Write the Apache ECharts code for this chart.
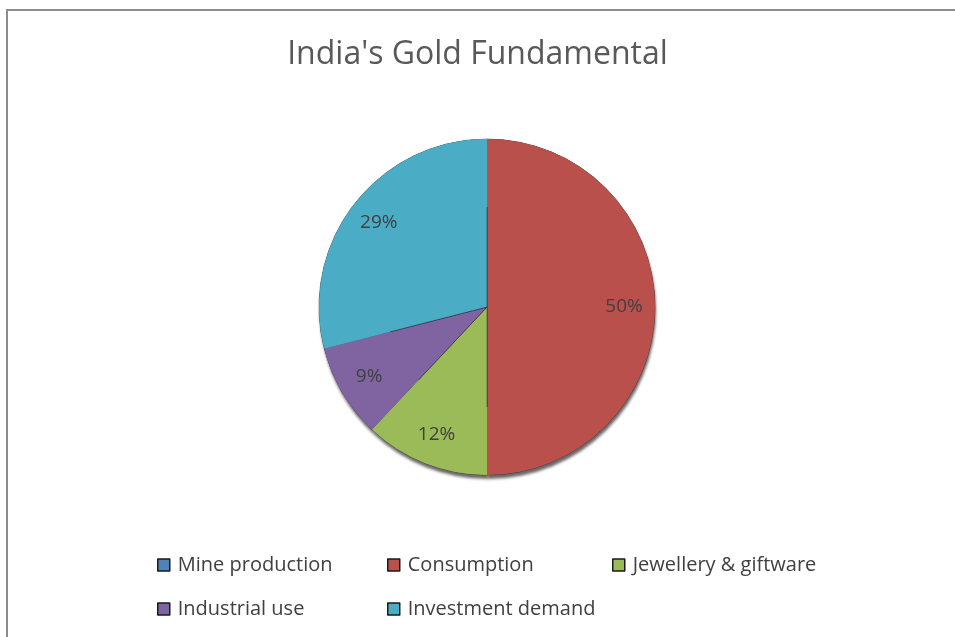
<!DOCTYPE html>
<html>
<head>
<meta charset="utf-8">
<script src="https://cdn.jsdelivr.net/npm/echarts@6/dist/echarts.min.js"></script>
<style>
  html, body { margin: 0; padding: 0; background: #fff; }
  #chart { width: 955px; height: 637px; }
</style>
</head>
<body>
<div id="chart"></div>
<script>
// India's gold fundamentals, share of each component (%)
const categories = ['Mine production', 'Consumption', 'Jewellery & giftware', 'Industrial use', 'Investment demand'];
const shares = [0, 50, 12, 9, 29];
const sliceColors = ['#4f81bd', '#ba504c', '#9bbb59', '#8064a2', '#4bacc6'];

const FONT = '"Open Sans", "Noto Sans", sans-serif';
const CENTER = [487, 307];
const R = 168;

const pieData = categories.map((name, i) => ({
  name: name,
  value: shares[i],
  itemStyle: { color: sliceColors[i] }
}));

const legendBase = {
  orient: 'vertical',
  itemWidth: 12,
  itemHeight: 12,
  itemGap: 24,
  icon: 'rect',
  itemStyle: { borderColor: '#1a1a1a', borderWidth: 1.5 },
  textStyle: { fontFamily: FONT, fontSize: 20, color: '#404040', padding: [0, 0, 0, 3] },
  selectedMode: false
};

const pieCommon = {
  type: 'pie',
  center: CENTER,
  startAngle: 90,
  clockwise: true,
  minAngle: 0,
  labelLine: { show: false },
  emphasis: { disabled: true },
  silent: true
};

const chart = echarts.init(document.getElementById('chart'), null, { renderer: 'canvas' });
chart.setOption({
  backgroundColor: '#ffffff',
  animation: false,
  title: {
    text: "India's Gold Fundamental",
    left: 'center',
    top: 34,
    textStyle: { fontFamily: FONT, fontSize: 32, fontWeight: 'normal', color: '#595959' }
  },
  graphic: [{
    type: 'rect',
    shape: { x: 7, y: 10, width: 1000, height: 700 },
    style: { fill: 'none', stroke: '#8c8c8c', lineWidth: 2 },
    silent: true
  }],
  legend: [
    Object.assign({}, legendBase, { left: 152, top: 550, data: [categories[0], categories[3]] }),
    Object.assign({}, legendBase, { left: 382, top: 550, data: [categories[1], categories[4]] }),
    Object.assign({}, legendBase, { left: 607, top: 550, data: [categories[2]] })
  ],
  series: [
    // coloured slices
    Object.assign({}, pieCommon, {
      z: 2,
      radius: [0, R],
      data: pieData,
      label: { show: false },
      itemStyle: {
        borderColor: 'rgba(30,30,40,0.55)',
        borderWidth: 0.8
      }
    }),
    // dark underlay casting the drop shadow of the disc
    Object.assign({}, pieCommon, {
      z: 1,
      radius: [0, R],
      data: pieData.map(d => ({ name: d.name, value: d.value })),
      label: { show: false },
      itemStyle: {
        color: '#5a4848',
        shadowColor: 'rgba(0,0,0,0.6)',
        shadowBlur: 3,
        shadowOffsetX: 1,
        shadowOffsetY: 4
      }
    }),
    // label ring: places the percentages towards the rim of each slice
    Object.assign({}, pieCommon, {
      z: 3,
      radius: [100, R],
      data: pieData,
      itemStyle: { color: 'rgba(0,0,0,0)', borderWidth: 0 },
      label: {
        show: true,
        position: 'inside',
        fontFamily: FONT,
        fontSize: 19,
        color: '#404040',
        formatter: p => (p.value > 0 ? Math.round(p.percent) + '%' : '')
      }
    })
  ]
});
</script>
</body>
</html>
